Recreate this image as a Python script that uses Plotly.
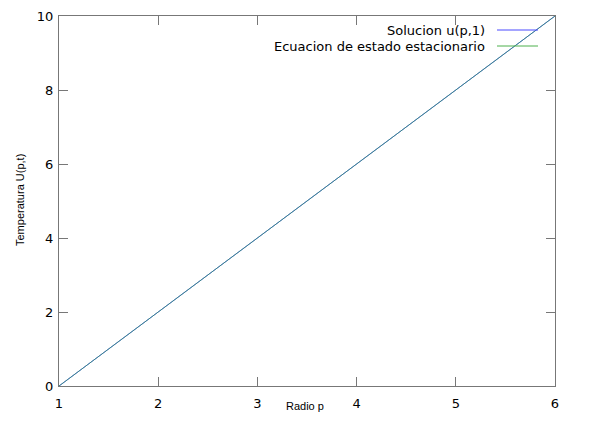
import plotly.graph_objects as go

p = [1, 2, 3, 4, 5, 6]
u_sol = [0, 2, 4, 6, 8, 10]
u_est = [0, 2, 4, 6, 8, 10]
xticks = [1, 2, 3, 4, 5, 6]
yticks = [0, 2, 4, 6, 8, 10]
names = ["Solucion u(p,1)", "Ecuacion de estado estacionario"]
colors = ["#4a4aff", "#4cb04c"]

fig = go.Figure()
fig.add_trace(go.Scatter(x=p, y=u_sol, mode="lines", line=dict(color=colors[0], width=1), showlegend=False))
fig.add_trace(go.Scatter(x=p, y=u_est, mode="lines", line=dict(color="rgba(50,160,80,0.68)", width=1), showlegend=False))

axis_common = dict(showgrid=False, zeroline=False, showline=True, linecolor="#777", linewidth=1,
                   ticks="inside", ticklen=9, tickcolor="#777", mirror="ticks", automargin=False,
                   tickfont=dict(family="DejaVu Sans", size=13, color="black"))
fig.update_xaxes(range=[1, 6], tickvals=xticks, ticktext=[str(v) for v in xticks],
                 ticklabelstandoff=5, **axis_common)
fig.update_yaxes(range=[0, 10], tickvals=yticks, ticktext=[str(v) for v in yticks],
                 ticklabelstandoff=2, **axis_common)

anns = []
shapes = []
for i, (nm, c) in enumerate(zip(names, colors)):
    yy = 30 + 16 * i
    yp = 1 - (yy - 16) / 370
    anns.append(dict(text=nm, x=(487 - 59) / 496, y=yp, xref="paper", yref="paper",
                     xanchor="right", yanchor="middle", showarrow=False,
                     font=dict(family="DejaVu Sans", size=13, color="black")))
    shapes.append(dict(type="line", xref="paper", yref="paper",
                       x0=(497 - 59) / 496, x1=(538 - 59) / 496, y0=yp, y1=yp,
                       line=dict(color=c, width=1)))

anns.append(dict(text="Radio p", x=(305 - 59) / 496, y=-(406 - 386) / 370, xref="paper", yref="paper",
                 xanchor="center", yanchor="middle", showarrow=False,
                 font=dict(family="Liberation Sans", size=11, color="black")))
anns.append(dict(text="Temperatura U(p,t)", x=-(59 - 20) / 496, y=1 - (200 - 16) / 370, xref="paper", yref="paper",
                 xanchor="center", yanchor="middle", showarrow=False, textangle=-90,
                 font=dict(family="Liberation Sans", size=11, color="black")))

fig.update_layout(width=588, height=419, margin=dict(l=51, r=41, t=8, b=41, autoexpand=False),
                  plot_bgcolor="white", paper_bgcolor="white",
                  annotations=anns, shapes=shapes, showlegend=False)
fig.write_html("out.html")
